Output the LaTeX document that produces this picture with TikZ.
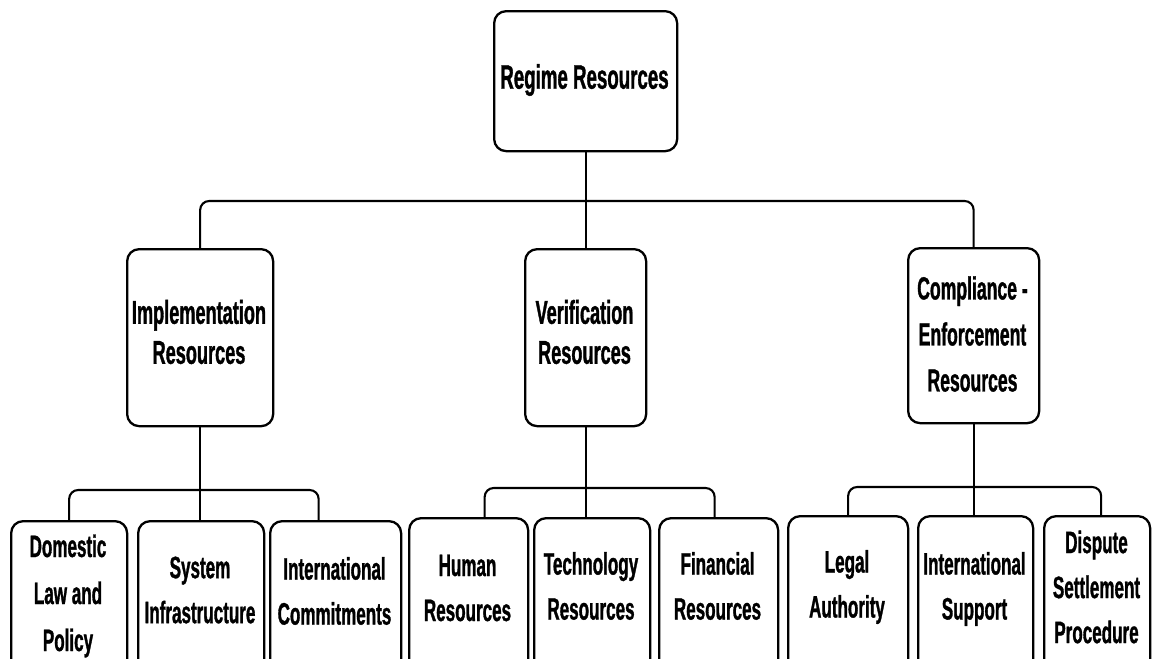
\documentclass[tikz,border=0pt]{standalone}
\usepackage{fontspec}
\newfontfamily\lblfont{Liberation Sans}[FakeStretch=0.55,FakeBold=1]
\begin{document}
\begin{tikzpicture}[x=1pt,y=-1pt,
  box/.style={draw, line width=2.3pt, rounded corners=12pt, inner sep=0pt, anchor=north west},
  toptxt/.style={align=center, inner sep=0pt, font={\lblfont\bfseries\fontsize{34}{40}\selectfont}},
  midtxt/.style={align=center, inner sep=0pt, font={\lblfont\bfseries\fontsize{33}{40}\selectfont}},
  comtxt/.style={align=center, inner sep=0pt, font={\lblfont\bfseries\fontsize{32}{46}\selectfont}},
  txt/.style={align=center, inner sep=0pt, font={\lblfont\bfseries\fontsize{31}{45}\selectfont}},
  link/.style={line width=2.1pt},
  bus/.style={link, rounded corners=9pt}]

\useasboundingbox (0,0) rectangle (1152,659);
\clip (0,0) rectangle (1152,659);

% top level
\node[box, minimum width=183pt, minimum height=140pt] (top) at (493,10) {};
\node[toptxt] (topT) at (584.5,80) {Regime Resources};

% second level
\node[box, minimum width=146pt, minimum height=177pt] (imp) at (126,248) {};
\node[box, minimum width=121pt, minimum height=177pt] (ver) at (524,248) {};
\node[box, minimum width=131pt, minimum height=175pt] (com) at (907,247) {};
\node[midtxt] (impT) at (199,332) {Implementation\\Resources};
\node[midtxt] (verT) at (584.5,332) {Verification\\Resources};
\node[comtxt] (comT) at (972.5,334) {Compliance -\\Enforcement\\Resources};

% third level (boxes run off the lower edge)
\node[box, minimum width=116pt, minimum height=200pt] (dom) at (10,520) {};
\node[box, minimum width=126pt, minimum height=200pt] (sys) at (137,520) {};
\node[box, minimum width=131pt, minimum height=200pt] (icm) at (269,520) {};
\node[box, minimum width=119pt, minimum height=200pt] (hum) at (408,517) {};
\node[box, minimum width=116pt, minimum height=200pt] (tec) at (533,517) {};
\node[box, minimum width=119pt, minimum height=200pt] (fin) at (658,517) {};
\node[box, minimum width=120pt, minimum height=200pt] (leg) at (787,515) {};
\node[box, minimum width=115pt, minimum height=200pt] (sup) at (917,515) {};
\node[box, minimum width=106pt, minimum height=200pt] (dis) at (1043,515) {};

\node[txt, font={\lblfont\bfseries\fontsize{31}{47}\selectfont}] (domT) at (68,596) {Domestic\\Law and\\Policy};
\node[txt] (sysT) at (200,590) {System\\Infrastructure};
\node[txt] (icmT) at (334.5,591) {International\\Commitments};
\node[txt] (humT) at (467.5,588) {Human\\Resources};
\node[txt] (tecT) at (591,586) {Technology\\Resources};
\node[txt] (finT) at (717.5,586) {Financial\\Resources};
\node[txt] (legT) at (847,587) {Legal\\Authority};
\node[txt] (supT) at (974.5,589) {International\\Support};
\node[txt] (disT) at (1096.5,587) {Dispute\\Settlement\\Procedure};

% junction points on the buses
\coordinate (b0) at (584.5,201);
\coordinate (b1) at (200,490);
\coordinate (b2) at (585,488);
\coordinate (b3) at (972,487);

% connectors: top to second level
\draw[link] (top.south) -- (ver.north);
\draw[bus] (imp.north) |- (b0) -| (com.north);

% connectors: second to third level
\draw[link] (imp.south) -- (imp.south |- sys.north);
\draw[bus] (dom.north) |- (b1) -| ([xshift=-17pt]icm.north);

\draw[link] (ver.south) -- (ver.south |- tec.north);
\draw[bus] ([xshift=16pt]hum.north) |- (b2) -| ([xshift=-4pt]fin.north);

\draw[link] (com.south) -- (com.south |- sup.north);
\draw[bus] (leg.north) |- (b3) -| ([xshift=4pt]dis.north);
\end{tikzpicture}
\end{document}
